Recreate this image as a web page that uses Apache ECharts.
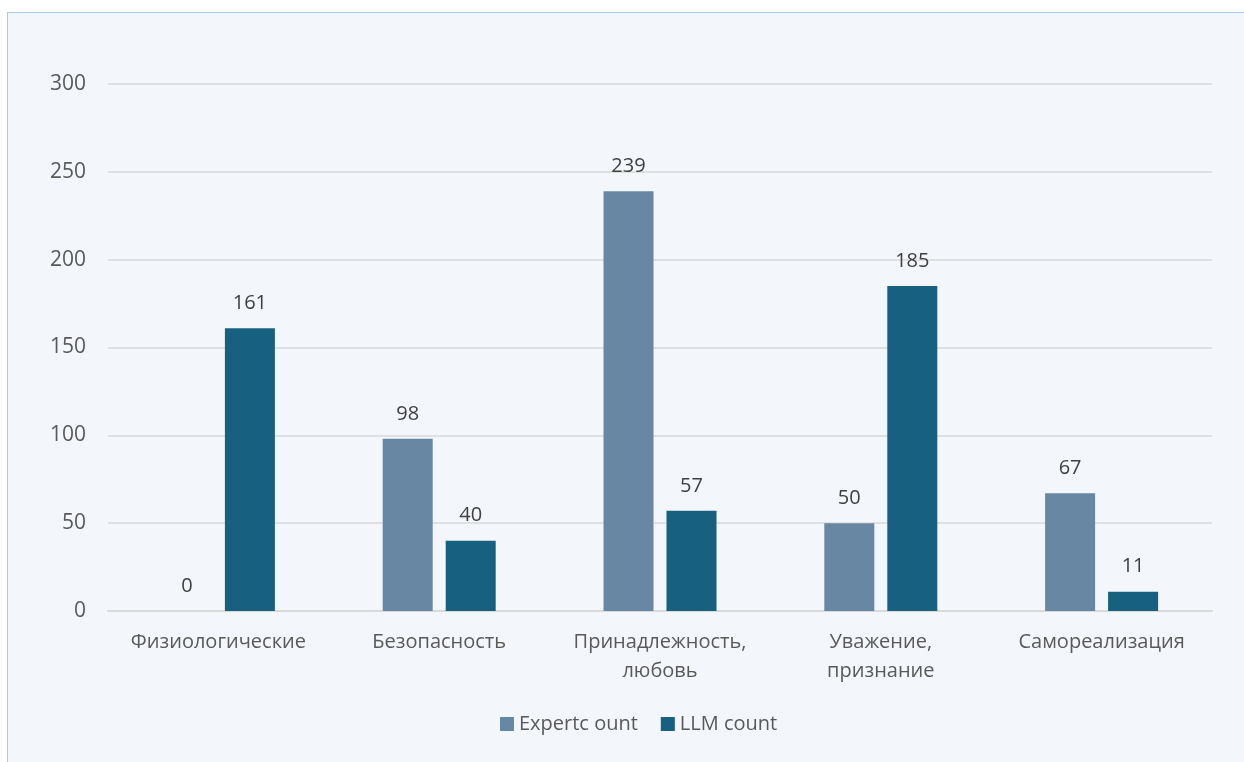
<!DOCTYPE html>
<html><head><meta charset="utf-8">
<script src="https://cdn.jsdelivr.net/npm/echarts@6/dist/echarts.min.js"></script>
<style>
html,body{margin:0;padding:0;background:#ffffff;overflow:hidden;}
#frame{position:absolute;left:7px;top:12px;width:1250px;height:770px;background:#f3f7fc;border:1px solid #a8cbea;box-sizing:border-box;}
#chart{position:absolute;left:-7px;top:-12px;width:1244px;height:762px;}
</style></head>
<body>
<div id="frame"><div id="chart"></div></div>
<script>
const categories = ['Физиологические', 'Безопасность', 'Принадлежность,\nлюбовь', 'Уважение,\nпризнание', 'Самореализация'];
const expertCount = [0, 98, 239, 50, 67];
const llmCount = [161, 40, 57, 185, 11];
const seriesNames = ['Expertc ount', 'LLM count'];

const font = '"Open Sans", "Noto Sans", sans-serif';
const chart = echarts.init(document.getElementById('chart'));
const labelStyle = {show: true, position: 'top', distance: 15, color: '#404040', fontSize: 20, fontFamily: font};
chart.setOption({
  backgroundColor: 'transparent',
  animation: false,
  grid: {left: 107, right: 33, top: 83, bottom: 152},
  legend: {
    bottom: 24, left: 494, itemWidth: 14, itemHeight: 14, itemGap: 23,
    icon: 'rect',
    textStyle: {color: '#595959', fontSize: 20, fontFamily: font},
    data: seriesNames
  },
  xAxis: {
    type: 'category', data: categories,
    axisLine: {lineStyle: {color: '#d9d9d9', width: 2}},
    axisTick: {show: false},
    axisLabel: {color: '#595959', fontSize: 20, fontFamily: font, margin: 17, lineHeight: 29, interval: 0}
  },
  yAxis: {
    type: 'value', min: 0, max: 300, interval: 50,
    axisLine: {show: false}, axisTick: {show: false},
    splitLine: {lineStyle: {color: '#d9d9d9', width: 1.5}},
    axisLabel: {color: '#595959', fontSize: 21, fontFamily: font, margin: 22}
  },
  series: [
    {name: seriesNames[0], type: 'bar', data: expertCount, barWidth: 50, barGap: '26%',
     itemStyle: {color: '#6787a3'}, label: labelStyle},
    {name: seriesNames[1], type: 'bar', data: llmCount, barWidth: 50, barGap: '26%',
     itemStyle: {color: '#17607f'}, label: labelStyle}
  ]
});
</script>
</body></html>
